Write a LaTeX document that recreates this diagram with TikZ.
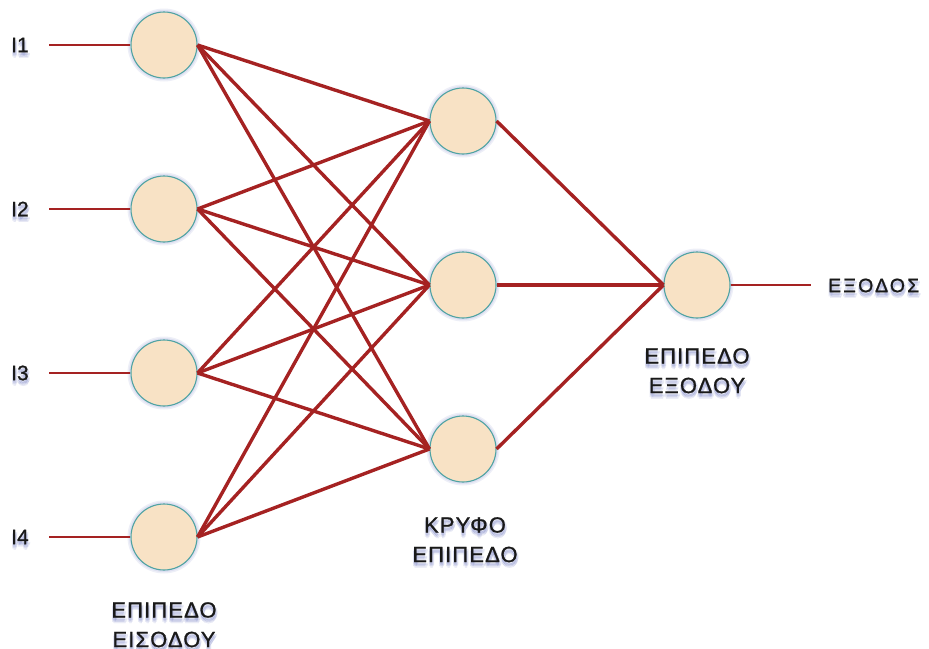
\documentclass[tikz,border=0pt]{standalone}
\usepackage{fontspec}
\setmainfont[FakeBold=0.9]{Liberation Sans}
\newfontfamily\lblfont[LetterSpace=5,FakeBold=0.9]{Liberation Sans}
\newfontfamily\reslfont[LetterSpace=11,FakeBold=0.9]{Liberation Sans}

\definecolor{wire}{HTML}{A52222}
\definecolor{cellfill}{HTML}{F8E2C5}
\definecolor{celledge}{HTML}{4FA3A3}
\definecolor{haze}{HTML}{6E78C0}

% text with a soft bluish shadow underneath
\newcommand\shadedlabel[4]{%
  \foreach \dx/\dy in {0/3,1.5/4,-1/4,0.5/5.5,2/2.5,-0.5/2}{%
    \node[#3, text=haze, opacity=0.13, shift={(\dx,\dy)}] at #2 {#4};}
  \node[#3] (#1) at #2 {#4};
}
% soft bluish shadow under a neuron
\newcommand\glowdisc[1]{%
  \foreach \r in {32,33.5,35,36.5}{%
    \fill[haze, opacity=0.12, shift={(3,5)}] #1 circle (\r);}
}

\begin{document}
\begin{tikzpicture}[x=1pt,y=-1pt,
  neuron/.style={circle, draw=celledge, line width=1.1pt, fill=cellfill,
    minimum size=66pt, inner sep=0pt},
  link/.style={draw=wire, line width=3.4pt},
  lead/.style={draw=wire, line width=2pt},
  lbl/.style={font=\lblfont\fontsize{22}{29.5}\selectfont, align=center,
    inner sep=0pt, text=black!90, anchor=north},
  inlbl/.style={font=\fontsize{21}{25}\selectfont, inner sep=0pt,
    text=black!90, anchor=west},
  outlbl/.style={font=\reslfont\fontsize{19.5}{23}\selectfont, inner sep=0pt,
    text=black!90, anchor=west},
]
\useasboundingbox (0,0) rectangle (929,648);

% layer positions
\coordinate (pi1) at (164,45);
\coordinate (pi2) at (164,209);
\coordinate (pi3) at (164,373);
\coordinate (pi4) at (164,537);
\coordinate (ph1) at (463,121);
\coordinate (ph2) at (463,285);
\coordinate (ph3) at (463,449);
\coordinate (po)  at (697,285);

% shadows below the neurons
\foreach \p in {pi1,pi2,pi3,pi4,ph1,ph2,ph3,po} \glowdisc{(\p)};

% neurons
\foreach \k in {1,...,4} \node[neuron] (i\k) at (pi\k) {};
\foreach \k in {1,...,3} \node[neuron] (h\k) at (ph\k) {};
\node[neuron] (out) at (po) {};

% input leads
\coordinate (s1) at (49,45);
\coordinate (s2) at (49,209);
\coordinate (s3) at (49,373);
\coordinate (s4) at (49,537);
\foreach \k in {1,...,4} \draw[lead] (s\k) -- (i\k.west);

% input -> hidden
\foreach \a in {1,...,4}
  \foreach \b in {1,...,3}
    \draw[link] (i\a.east) -- (h\b.west);

% hidden -> output
\foreach \b in {1,...,3} \draw[link] (h\b.east) -- (out.west);

% output lead
\coordinate (t) at (811,285);
\draw[lead] (out.east) -- (t);

% labels
\shadedlabel{l1}{(11,45)}{inlbl}{I1}
\shadedlabel{l2}{(11,209)}{inlbl}{I2}
\shadedlabel{l3}{(11,373)}{inlbl}{I3}
\shadedlabel{l4}{(11,537)}{inlbl}{I4}
\shadedlabel{res}{(828,285.5)}{outlbl}{ΕΞΟΔΟΣ}
\shadedlabel{lin}{(164,602)}{lbl}{ΕΠΙΠΕΔΟ\\ΕΙΣΟΔΟΥ}
\shadedlabel{lhid}{(465,517)}{lbl}{ΚΡΥΦΟ\\ΕΠΙΠΕΔΟ}
\shadedlabel{lout}{(697,348)}{lbl}{ΕΠΙΠΕΔΟ\\ΕΞΟΔΟΥ}
\end{tikzpicture}
\end{document}
